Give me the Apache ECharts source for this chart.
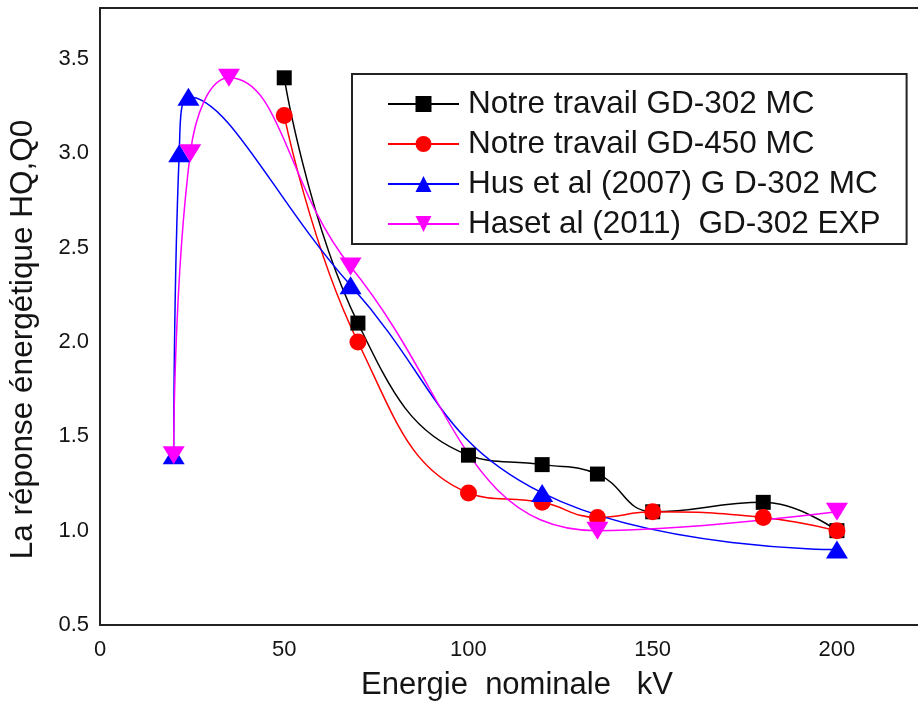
<!DOCTYPE html>
<html lang="fr" style="height: 100%">
<head>
    <meta charset="utf-8">
    <title>Réponse énergétique</title>
    <script src="https://cdn.jsdelivr.net/npm/echarts@6/dist/echarts.min.js"></script>
</head>
<body style="height: 100%; margin: 0; background: #fff">
<div id="container" style="width: 918px; height: 704px"></div>
<script type="text/javascript">
    // données : [énergie kV, réponse HQ,Q0]
    const seriesNames = [
        'Notre travail GD-302 MC',
        'Notre travail GD-450 MC',
        'Hus et al (2007) G D-302 MC',
        'Haset al (2011)  GD-302 EXP'
    ];
    const gd302 = [[50, 3.4], [70, 2.1], [100, 1.4], [120, 1.35], [135, 1.3], [150, 1.1], [180, 1.15], [200, 1.0]];
    const gd450 = [[50, 3.2], [70, 2.0], [100, 1.2], [120, 1.15], [135, 1.07], [150, 1.1], [180, 1.07], [200, 1.0]];
    const hus2007 = [[20, 1.4], [21.5, 3.0], [24, 3.3], [68, 2.3], [120, 1.2], [200, 0.9]];
    const has2011 = [[20, 1.4], [24.5, 3.0], [35, 3.4], [68, 2.4], [135, 1.0], [200, 1.1]];

    const xTicks = [0, 50, 100, 150, 200];
    const yTicks = [0.5, 1.0, 1.5, 2.0, 2.5, 3.0, 3.5];

    const font = 'Liberation Sans, Arial, sans-serif';
    const ink = '#141414';
    const frame = {show: true, onZero: false, lineStyle: {color: '#222', width: 2}};

    var dom = document.getElementById('container');
    var myChart = echarts.init(dom, null, {renderer: 'canvas'});

    function makeSeries(name, data, color, symbol, size, rotate) {
        return {
            name: name,
            type: 'line',
            data: data,
            smooth: 0.45,
            symbol: symbol,
            symbolSize: size,
            symbolRotate: rotate,
            showAllSymbol: true,
            lineStyle: {color: color, width: 1.5},
            itemStyle: {color: color},
            emphasis: {disabled: true},
            animation: false
        };
    }

    var option = {
        backgroundColor: '#fff',
        grid: {
            left: 100,
            top: 8,
            right: 0,
            bottom: 79,
            show: false,
            outerBoundsMode: 'none'
        },
        xAxis: [{
            type: 'value',
            min: xTicks[0],
            max: 222,
            interval: 50,
            name: 'Energie  nominale   kV',
            nameLocation: 'middle',
            nameGap: 45,
            nameTextStyle: {fontFamily: font, fontSize: 31, color: ink, padding: [0, 0, 0, 16]},
            axisLine: frame,
            axisTick: {show: false},
            splitLine: {show: false},
            axisLabel: {
                showMaxLabel: false,
                margin: 14,
                fontFamily: font,
                fontSize: 22,
                color: ink
            }
        }, {
            // bord supérieur du cadre
            type: 'value',
            position: 'top',
            min: xTicks[0],
            max: 222,
            axisLine: frame,
            axisTick: {show: false},
            axisLabel: {show: false},
            splitLine: {show: false}
        }],
        yAxis: {
            type: 'value',
            min: yTicks[0],
            max: 3.77,
            interval: 0.5,
            name: 'La réponse énergétique HQ,Q0',
            nameLocation: 'middle',
            nameGap: 61,
            nameTextStyle: {fontFamily: font, fontSize: 31.5, color: ink, padding: [0, 46, 0, 0]},
            axisLine: frame,
            axisTick: {show: false},
            splitLine: {show: false},
            axisLabel: {
                showMaxLabel: false,
                margin: 11,
                fontFamily: font,
                fontSize: 22,
                color: ink,
                formatter: function (v) {
                    return v.toFixed(1);
                }
            }
        },
        legend: {
            orient: 'vertical',
            left: 352,
            top: 74,
            padding: [14, 26, 4, 35],
            itemGap: 8,
            itemWidth: 71,
            itemHeight: 20,
            backgroundColor: '#fff',
            borderColor: '#222',
            borderWidth: 2,
            borderRadius: 0,
            selectedMode: false,
            textStyle: {
                fontFamily: font,
                fontSize: 31.5,
                color: ink,
                lineHeight: 30,
                padding: [0, 0, 0, 4]
            },
            data: seriesNames
        },
        series: [
            makeSeries(seriesNames[0], gd302, '#000000', 'rect', 15, 0),
            makeSeries(seriesNames[1], gd450, '#ff0000', 'circle', 17, 0),
            makeSeries(seriesNames[2], hus2007, '#0000ff', 'triangle', [22, 18], 0),
            makeSeries(seriesNames[3], has2011, '#ff00ff', 'triangle', [22, 18], 180)
        ]
    };

    myChart.setOption(option);
    window.addEventListener('resize', myChart.resize);
</script>
</body>
</html>
